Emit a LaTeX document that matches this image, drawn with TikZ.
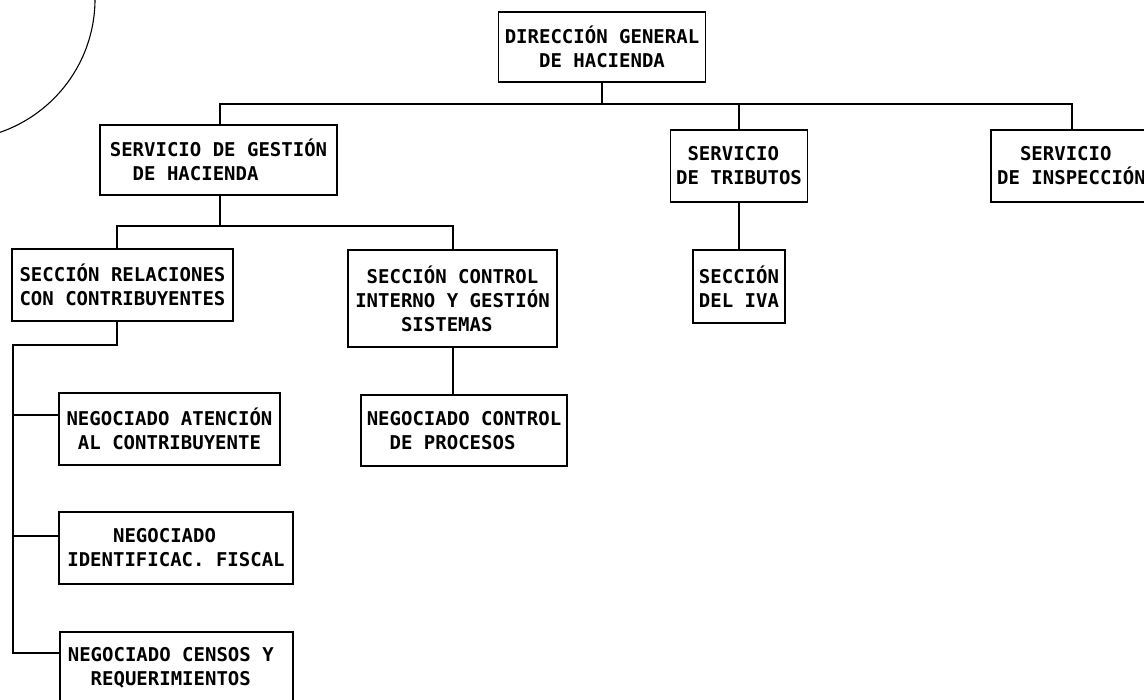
\documentclass[tikz,border=0pt]{standalone}
\usepackage{fontspec}
\newfontfamily\orgfont{DejaVu Sans Mono}
\newcommand\ind[1]{\hphantom{#1}}
\begin{document}
\begin{tikzpicture}[x=1pt,y=-1pt,
  box/.style={draw,line width=1.9pt,inner sep=0pt,align=left,
    font=\orgfont\bfseries\fontsize{19}{24}\selectfont},
  conn/.style={line width=1.9pt}]
\useasboundingbox (0,0) rectangle (1144,700);
\clip (0,0) rectangle (1144,700);
% stamp arc
\draw[line width=1.1pt] (-46,-1) circle [radius=141];
% boxes
\node[box,minimum width=207,minimum height=70] (DG) at (602,47) {DIRECCIÓN GENERAL\\\ind{SSS}DE HACIENDA};
\node[box,minimum width=237,minimum height=70] (SG) at (218.5,160) {SERVICIO DE GESTIÓN\\\ind{SS}DE HACIENDA};
\node[box,minimum width=137,minimum height=72] (ST) at (739,166) {\ind{S}SERVICIO\\DE TRIBUTOS};
\node[box,minimum width=161,minimum height=72] (SI) at (1071.5,166) {\ind{SS}SERVICIO\\DE INSPECCIÓN};
\node[box,minimum width=221,minimum height=72] (SR) at (122.5,285) {SECCIÓN RELACIONES\\CON CONTRIBUYENTES};
\node[box,minimum width=209,minimum height=97] (SC) at (452.5,298.5) {\ind{S}SECCIÓN CONTROL\\INTERNO Y GESTIÓN\\\ind{SSSS}SISTEMAS};
\node[box,minimum width=92,minimum height=73] (SIVA) at (739,286.5) {SECCIÓN\\DEL IVA};
\node[box,minimum width=206,minimum height=71] (NCP) at (464,430.5) {NEGOCIADO CONTROL\\\ind{SS}DE PROCESOS};
\node[box,minimum width=221,minimum height=72] (NA) at (169.5,429) {NEGOCIADO ATENCIÓN\\\ind{S}AL CONTRIBUYENTE};
\node[box,minimum width=234,minimum height=72] (NI) at (176,548) {\ind{SSSS}NEGOCIADO\\IDENTIFICAC. FISCAL};
\node[box,minimum width=233,minimum height=72] (NCR) at (176.5,668) {NEGOCIADO CENSOS Y\ind{S}\\\ind{SS}REQUERIMIENTOS};
% connector coordinates
\coordinate (barL) at (220,104);
\coordinate (barR) at (1072,104);
\coordinate (b2L) at (117,226);
\coordinate (b2R) at (453,226);
\coordinate (sp) at (13,345);
\coordinate (yNA) at (0,415);
\coordinate (yNI) at (0,536);
\coordinate (yNCR) at (0,653);
% connectors
\draw[conn] (DG.south) -- (DG.south |- barL);
\draw[conn] (barL |- SG.north) -- (barL) -- (barR) -- (barR |- SI.north);
\draw[conn] (ST.north) -- (ST.north |- barL);
\draw[conn] (barL |- SG.south) -- (b2L -| barL);
\draw[conn] (b2L |- SR.north) -- (b2L) -- (b2R) -- (b2R |- SC.north);
\draw[conn] (b2R |- SC.south) -- (b2R |- NCP.north);
\draw[conn] (ST.south) -- (SIVA.north);
\draw[conn] (b2L |- SR.south) -- (b2L |- sp) -- (sp) -- (sp |- yNCR) -- (NCR.west |- yNCR);
\draw[conn] (sp |- yNA) -- (NA.west |- yNA);
\draw[conn] (sp |- yNI) -- (NI.west |- yNI);
\end{tikzpicture}
\end{document}
